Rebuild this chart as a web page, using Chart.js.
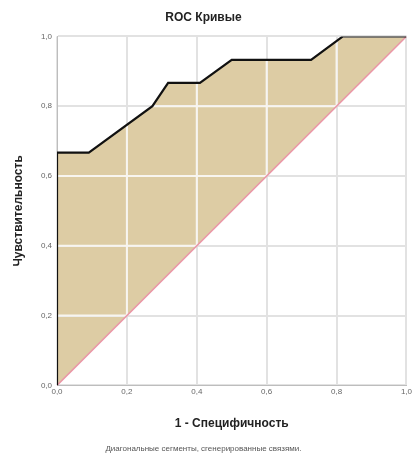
<!DOCTYPE html>
<html>
<head>
<meta charset="utf-8">
<script src="https://cdn.jsdelivr.net/npm/chart.js@4/dist/chart.umd.min.js"></script>
<style>
  html, body { margin: 0; padding: 0; background: #fff; }
  #wrap { width: 414px; height: 459px; }
</style>
</head>
<body>
<div id="wrap"><canvas id="rocChart"></canvas></div>
<script>
// Points de la courbe ROC (1 - spécificité, sensibilité)
const rocX = [0, 0, 0.091, 0.273, 0.318, 0.409, 0.5, 0.727, 0.818, 1];
const rocY = [0, 0.667, 0.667, 0.8, 0.867, 0.867, 0.933, 0.933, 1, 1];

// Diagonale de référence
const diagX = [0, 1];
const diagY = [0, 1];

// Libellés des graduations
const tickLabels = ['0,0', '0,2', '0,4', '0,6', '0,8', '1,0'];

const police = "'Liberation Sans', Arial, sans-serif";

function formatTick(value) {
    const i = Math.round(value * 5);
    return tickLabels[i] !== undefined ? tickLabels[i] : '';
}

// Grille blanche par-dessus la zone remplie (comme SPSS)
const grilleBlanche = {
    id: 'grilleBlanche',
    beforeDatasetsDraw(chart) {
        const { ctx, chartArea, scales: { x, y } } = chart;
        const pts = chart.getDatasetMeta(0).data;
        ctx.save();
        ctx.beginPath();
        pts.forEach((p, i) => i ? ctx.lineTo(p.x, p.y) : ctx.moveTo(p.x, p.y));
        for (let i = diagX.length - 1; i >= 0; i--) {
            ctx.lineTo(x.getPixelForValue(diagX[i]), y.getPixelForValue(diagY[i]));
        }
        ctx.closePath();
        ctx.clip();
        ctx.strokeStyle = '#f8f5ef';
        ctx.lineWidth = 2;
        x.ticks.forEach(t => {
            const px = x.getPixelForValue(t.value);
            ctx.beginPath();
            ctx.moveTo(px, chartArea.top);
            ctx.lineTo(px, chartArea.bottom);
            ctx.stroke();
        });
        y.ticks.forEach(t => {
            const py = y.getPixelForValue(t.value);
            ctx.beginPath();
            ctx.moveTo(chartArea.left, py);
            ctx.lineTo(chartArea.right, py);
            ctx.stroke();
        });
        ctx.restore();
    }
};

const ctx = document.getElementById('rocChart');

const rocChart = new Chart(ctx, {
    type: 'line',
    data: {
        datasets: [
            {
                // index 0 : la courbe, remplie jusqu'à la diagonale (index 1)
                label: 'ROC',
                data: rocX.map((x, i) => ({ x: x, y: rocY[i] })),
                borderColor: '#111111',
                borderWidth: 2.2,
                pointRadius: 0,
                fill: { target: 1 },
                backgroundColor: '#ddcca4'
            },
            {
                label: 'Диагональ',
                data: diagX.map((x, i) => ({ x: x, y: diagY[i] })),
                borderColor: '#ea98a8',
                borderWidth: 1.5,
                pointRadius: 0,
                fill: false
            }
        ]
    },
    plugins: [grilleBlanche],
    options: {
        responsive: true,
        maintainAspectRatio: false,
        animation: false,
        layout: { padding: { left: 0, right: 7, top: 0, bottom: 0 } },
        plugins: {
            legend: { display: false },
            tooltip: { enabled: false },
            filler: { drawTime: 'beforeDraw' },
            title: {
                display: true,
                text: 'ROC Кривые',
                color: '#222',
                font: { family: police, size: 12, weight: 'bold' },
                padding: { top: 10, bottom: 12 }
            },
            subtitle: {
                display: true,
                position: 'bottom',
                text: 'Диагональные сегменты, сгенерированные связями.',
                color: '#555',
                font: { family: police, size: 8 },
                padding: { top: 4, bottom: 5 }
            }
        },
        scales: {
            x: {
                type: 'linear',
                min: 0,
                max: 1,
                afterFit: s => { s.height = 55; },
                ticks: {
                    stepSize: 0.2,
                    callback: formatTick,
                    color: '#666',
                    font: { family: police, size: 8 },
                    padding: 2,
                    maxRotation: 0
                },
                grid: { color: '#e2e2e2', lineWidth: 2, drawTicks: false },
                border: { color: '#bdbdbd', width: 1 },
                title: {
                    display: true,
                    text: '1 - Специфичность',
                    color: '#222',
                    font: { family: police, size: 12, weight: 'bold' },
                    padding: { top: 0, bottom: 10 }
                }
            },
            y: {
                type: 'linear',
                min: 0,
                max: 1,
                afterFit: s => { s.width = 57; },
                ticks: {
                    stepSize: 0.2,
                    callback: formatTick,
                    color: '#666',
                    font: { family: police, size: 8 },
                    padding: 5
                },
                grid: { color: '#e2e2e2', lineWidth: 2, drawTicks: false },
                border: { color: '#bdbdbd', width: 1 },
                title: {
                    display: true,
                    text: 'Чувствительность',
                    color: '#222',
                    font: { family: police, size: 12, weight: 'bold' },
                    padding: { top: 11, bottom: 0 }
                }
            }
        }
    }
});
</script>
</body>
</html>
